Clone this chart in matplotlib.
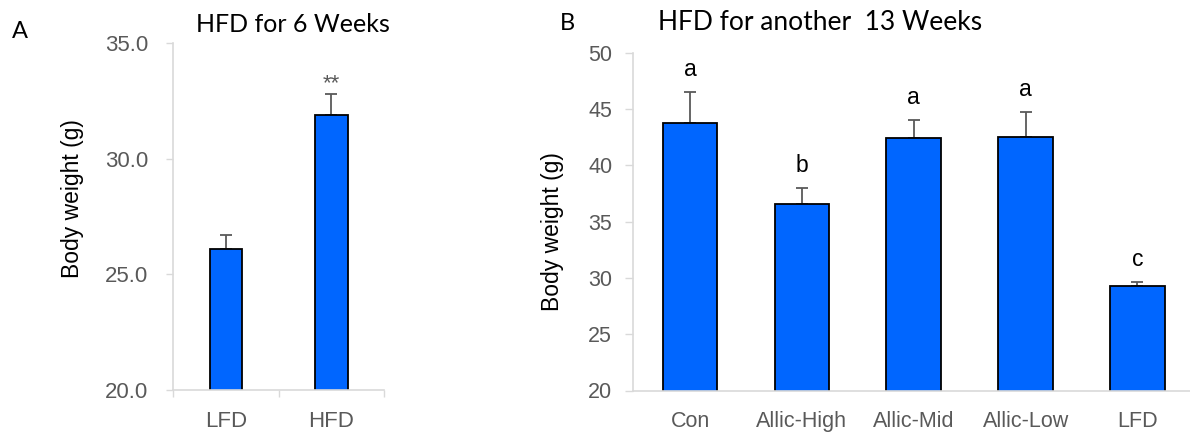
import matplotlib
matplotlib.use("Agg")
import matplotlib.pyplot as plt
import numpy as np

# ---- Data ----
cats_a = ["LFD", "HFD"]
vals_a = [26.1, 31.9]
errs_a = [0.6, 0.9]
sig_a = ["", "**"]
yticks_a = [20.0, 25.0, 30.0, 35.0]

cats_b = ["Con", "Allic-High", "Allic-Mid", "Allic-Low", "LFD"]
vals_b = [43.8, 36.6, 42.45, 42.5, 29.3]
errs_b = [2.7, 1.4, 1.55, 2.2, 0.3]
letters_b = ["a", "b", "a", "a", "c"]
yticks_b = [20, 25, 30, 35, 40, 45, 50]

title_a = "HFD for 6 Weeks"
title_b = "HFD for another  13 Weeks"
ylabel = "Body weight (g)"

# ---- Style ----
plt.rcParams['font.family'] = ['Liberation Sans', 'DejaVu Sans']
BAR = "#0066FF"
GRAY = "#595959"
SPINE = "#D9D9D9"

W, H = 1190, 432
fig = plt.figure(figsize=(W / 100, H / 100), dpi=100)

def px(x, y):
    return x / W, 1 - y / H

# ---- Panel A ----
axA = fig.add_axes([173.3 / W, 1 - 390 / H, (384 - 173.3) / W, (390 - 43.3) / H])
xa = np.arange(len(cats_a))
axA.bar(xa, vals_a, width=0.31, color=BAR, edgecolor="black", linewidth=1.3, zorder=2)
axA.errorbar(xa, vals_a, yerr=[np.zeros(len(errs_a)), errs_a], fmt="none",
             ecolor=GRAY, elinewidth=1.3, capsize=4, capthick=1.3, zorder=1)
axA.set_xlim(-0.5, 1.5)
axA.set_ylim(20, 35)
axA.set_yticks(yticks_a)
axA.set_yticklabels([f"{v:.1f}" for v in yticks_a])
axA.set_xticks(xa)
axA.set_xticklabels(cats_a)
axA.set_xticks([-0.5, 0.5, 1.5], minor=True)
axA.tick_params(axis="x", which="major", length=0, pad=15, labelsize=16, labelcolor=GRAY)
axA.tick_params(axis="x", which="minor", length=5, width=1, color=SPINE)
axA.tick_params(axis="y", length=5, width=1, color=SPINE, pad=13, labelsize=16, labelcolor=GRAY)
for s in ["top", "right"]:
    axA.spines[s].set_visible(False)
for s in ["left", "bottom"]:
    axA.spines[s].set_color(SPINE)
    axA.spines[s].set_linewidth(1.2)
for x, v, e, s in zip(xa, vals_a, errs_a, sig_a):
    if s:
        axA.text(x, v + e + 0.45, s, ha="center", va="center", fontsize=16, color=GRAY)

# ---- Panel B ----
axB = fig.add_axes([633 / W, 1 - 390.5 / H, (W - 633) / W + 0.001, (390.5 - 52.7) / H])
xb = np.arange(len(cats_b))
axB.bar(xb, vals_b, width=0.49, color=BAR, edgecolor="black", linewidth=1.3, zorder=2)
axB.errorbar(xb, vals_b, yerr=[np.zeros(len(errs_b)), errs_b], fmt="none",
             ecolor=GRAY, elinewidth=1.3, capsize=4, capthick=1.3, zorder=1)
axB.set_xlim(-0.51, 4.48)
axB.set_ylim(20, 50)
axB.set_yticks(yticks_b)
axB.set_xticks(xb)
axB.set_xticklabels(cats_b)
axB.tick_params(axis="x", length=0, pad=15, labelsize=15.5, labelcolor=GRAY)
axB.tick_params(axis="y", length=6, width=1, color=SPINE, pad=9, labelsize=15.5, labelcolor=GRAY)
for s in ["top", "right"]:
    axB.spines[s].set_visible(False)
for s in ["left", "bottom"]:
    axB.spines[s].set_color(SPINE)
    axB.spines[s].set_linewidth(1.2)
for x, v, e, s in zip(xb, vals_b, errs_b, letters_b):
    axB.text(x, v + e + 2.0, s, ha="center", va="center", fontsize=16.5, color="black")

# ---- Labels / titles ----
fig.text(*px(72, 199), ylabel, rotation=90, ha="center", va="center", fontsize=16.5, color="black")
fig.text(*px(552, 231.5), ylabel, rotation=90, ha="center", va="center", fontsize=16.5, color="black")

tfam = ['Lato', 'DejaVu Sans']
fig.text(*px(293, 24), title_a, ha="center", va="center", fontsize=18, family=tfam, color="black")
fig.text(*px(820, 23), title_b, ha="center", va="center", fontsize=19, family=tfam, color="black")
fig.text(*px(20, 32), "A", ha="center", va="center", fontsize=17, family=tfam, color="black")
fig.text(*px(567, 23), "B", ha="center", va="center", fontsize=17, family=tfam, color="black")

fig.savefig("out.png", dpi=100)
